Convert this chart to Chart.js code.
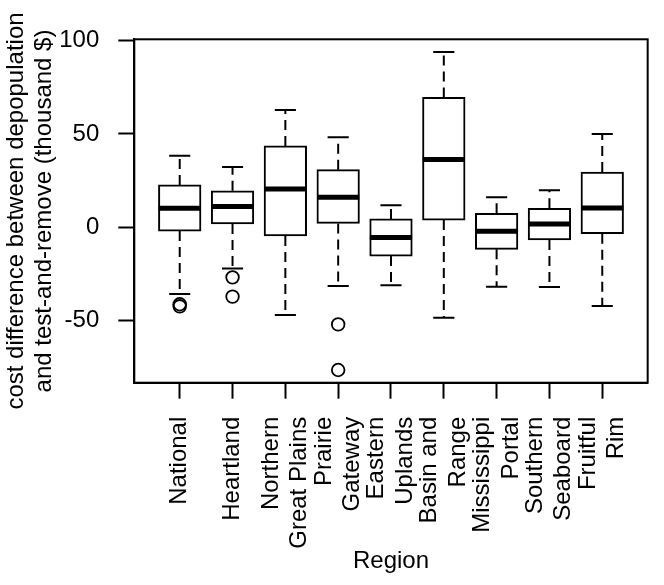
<!DOCTYPE html>
<html>
<head>
<meta charset="utf-8">
<script src="https://cdn.jsdelivr.net/npm/chart.js@4.4.1/dist/chart.umd.min.js"></script>
<style>
  body { margin: 0; background: #fff; }
  canvas { display: block; }
</style>
</head>
<body>
<canvas id="myChart" width="664" height="585"></canvas>
<script>
// one entry per region, each label split into its printed lines
const regionLabels = [
    ['National'],
    ['Heartland'],
    ['Northern', 'Great Plains'],
    ['Prairie', 'Gateway'],
    ['Eastern', 'Uplands'],
    ['Basin and', 'Range'],
    ['Mississippi', 'Portal'],
    ['Southern', 'Seaboard'],
    ['Fruitful', 'Rim']
];

// box statistics (thousand $)
const lowerWhisker = [-35.7, -22.0, -47.0, -31.4, -31.0, -48.4, -31.8, -32.0, -42.1];
const lowerQuartile = [-2.0, 1.8, -4.6, 2.1, -15.4, 3.9, -11.8, -6.8, -3.4];
const medians = [10.2, 11.1, 20.5, 16.1, -5.4, 36.4, -2.1, 1.8, 10.4];
const upperQuartile = [22.7, 19.6, 43.6, 30.9, 4.5, 69.6, 7.5, 10.2, 29.6];
const upperWhisker = [38.4, 32.3, 62.9, 48.2, 11.8, 93.9, 16.1, 19.8, 50.0];

// outliers per region
const outliers = [
    [-41.2, -42.3],
    [-26.8, -37.1],
    [],
    [-52.0, -76.4],
    [],
    [],
    [],
    [],
    []
];

const yTicks = [-50, 0, 50, 100];

const BOX_HALF = 0.4;      // boxwex 0.8
const STAPLE_HALF = 0.2;
const LINE_STEP = 0.54;    // spacing of the two label lines, in x units

// R style axis limits (4% extension)
const allValues = lowerWhisker.concat(upperWhisker, outliers.flat());
const dataMin = Math.min(...allValues);
const dataMax = Math.max(...allValues);
const span = dataMax - dataMin;
const n = regionLabels.length;

function segments(pairs) {
    const pts = [];
    pairs.forEach(([a, b]) => {
        pts.push({x: a[0], y: a[1]}, {x: b[0], y: b[1]}, {x: b[0], y: null});
    });
    return pts;
}

const pos = regionLabels.map((l, i) => i + 1);

const boxData = pos.map((x, i) => ({x: x, y: [lowerQuartile[i], upperQuartile[i]]}));
const medianData = segments(pos.map((x, i) => [[x - BOX_HALF, medians[i]], [x + BOX_HALF, medians[i]]]));
const whiskerData = segments(pos.flatMap((x, i) => [
    [[x, upperQuartile[i]], [x, upperWhisker[i]]],
    [[x, lowerQuartile[i]], [x, lowerWhisker[i]]]
]));
const stapleData = segments(pos.flatMap((x, i) => [
    [[x - STAPLE_HALF, upperWhisker[i]], [x + STAPLE_HALF, upperWhisker[i]]],
    [[x - STAPLE_HALF, lowerWhisker[i]], [x + STAPLE_HALF, lowerWhisker[i]]]
]));
const outlierData = [];
outliers.forEach((list, i) => list.forEach(v => outlierData.push({x: pos[i], y: v})));

Chart.defaults.font.family = '"Liberation Sans", Arial, Helvetica, sans-serif';
Chart.defaults.font.size = 24;
Chart.defaults.color = '#000';

// box round the plot region, like R's bty="o"
const frame = {
    id: 'frame',
    afterDatasetsDraw(chart) {
        const {ctx, chartArea: a} = chart;
        ctx.save();
        ctx.strokeStyle = '#000';
        ctx.lineWidth = 2;
        ctx.strokeRect(a.left, a.top, a.right - a.left, a.bottom - a.top);
        ctx.restore();
    }
};

const config = {
    type: 'bar',
    data: {
        datasets: [
            {
                type: 'scatter',
                data: outlierData,
                pointStyle: 'circle',
                pointRadius: 6.3,
                pointBorderWidth: 1.8,
                pointBackgroundColor: 'rgba(0,0,0,0)',
                pointBorderColor: '#000',
                order: 0
            },
            {
                type: 'line',
                data: medianData,
                borderColor: '#000',
                borderWidth: 5,
                borderCapStyle: 'butt',
                pointRadius: 0,
                spanGaps: false,
                fill: false,
                order: 1
            },
            {
                type: 'line',
                data: stapleData,
                borderColor: '#000',
                borderWidth: 2,
                borderCapStyle: 'butt',
                pointRadius: 0,
                spanGaps: false,
                fill: false,
                order: 2
            },
            {
                type: 'line',
                data: whiskerData,
                borderColor: '#000',
                borderWidth: 2,
                borderDash: [10, 6],
                borderCapStyle: 'butt',
                pointRadius: 0,
                spanGaps: false,
                fill: false,
                order: 3
            },
            {
                type: 'bar',
                data: boxData,
                backgroundColor: '#fff',
                borderColor: '#000',
                borderWidth: 2,
                borderSkipped: false,
                barThickness: 42.6,
                order: 4
            }
        ]
    },
    options: {
        responsive: false,
        animation: false,
        events: [],
        layout: {
            padding: {top: 39.3, right: 11.3, left: 0, bottom: 0}
        },
        plugins: {
            legend: {display: false},
            tooltip: {enabled: false}
        },
        scales: {
            x: {
                type: 'linear',
                offset: false,
                min: 0.5 - 0.04 * n,
                max: n + 0.5 + 0.04 * n,
                // tick mark at each region, label lines as unmarked ticks either side
                afterBuildTicks(axis) {
                    const ticks = [];
                    regionLabels.forEach((lines, k) => {
                        const p = k + 1;
                        ticks.push({value: p, text: lines.length === 1 ? lines[0] : '', mark: true});
                        if (lines.length > 1) {
                            lines.forEach((t, j) => {
                                ticks.push({value: p + (j - (lines.length - 1) / 2) * LINE_STEP, text: t, mark: false});
                            });
                        }
                    });
                    ticks.sort((a, b) => a.value - b.value);
                    axis.ticks = ticks;
                },
                afterFit(axis) {
                    axis.height = 585 - 382.7;
                },
                ticks: {
                    autoSkip: false,
                    minRotation: 90,
                    maxRotation: 90,
                    padding: 18,
                    callback: (value, index, ticks) => ticks[index].text
                },
                grid: {
                    offset: false,
                    drawOnChartArea: false,
                    drawTicks: true,
                    tickLength: 16,
                    tickWidth: 2,
                    tickColor: (c) => (c.tick && c.tick.mark) ? '#000' : 'rgba(0,0,0,0)'
                },
                border: {display: true, color: '#000', width: 2},
                title: {
                    display: true,
                    text: 'Region',
                    padding: {top: 0, bottom: 9.6}
                }
            },
            y: {
                min: dataMin - 0.04 * span,
                max: dataMax + 0.04 * span,
                afterBuildTicks(axis) {
                    axis.ticks = yTicks.map(v => ({value: v}));
                },
                afterFit(axis) {
                    axis.width = 134.3;
                },
                ticks: {
                    padding: 19
                },
                grid: {
                    drawOnChartArea: false,
                    drawTicks: true,
                    tickLength: 16,
                    tickWidth: 2,
                    tickColor: '#000'
                },
                border: {display: true, color: '#000', width: 2},
                title: {
                    display: true,
                    text: ['cost difference between depopulation', 'and test-and-remove (thousand $)'],
                    font: {size: 24, lineHeight: 1.15},
                    padding: {top: 2.5, bottom: 0}
                }
            }
        }
    },
    plugins: [frame]
};

const chart = new Chart(document.getElementById('myChart').getContext('2d'), config);
</script>
</body>
</html>
